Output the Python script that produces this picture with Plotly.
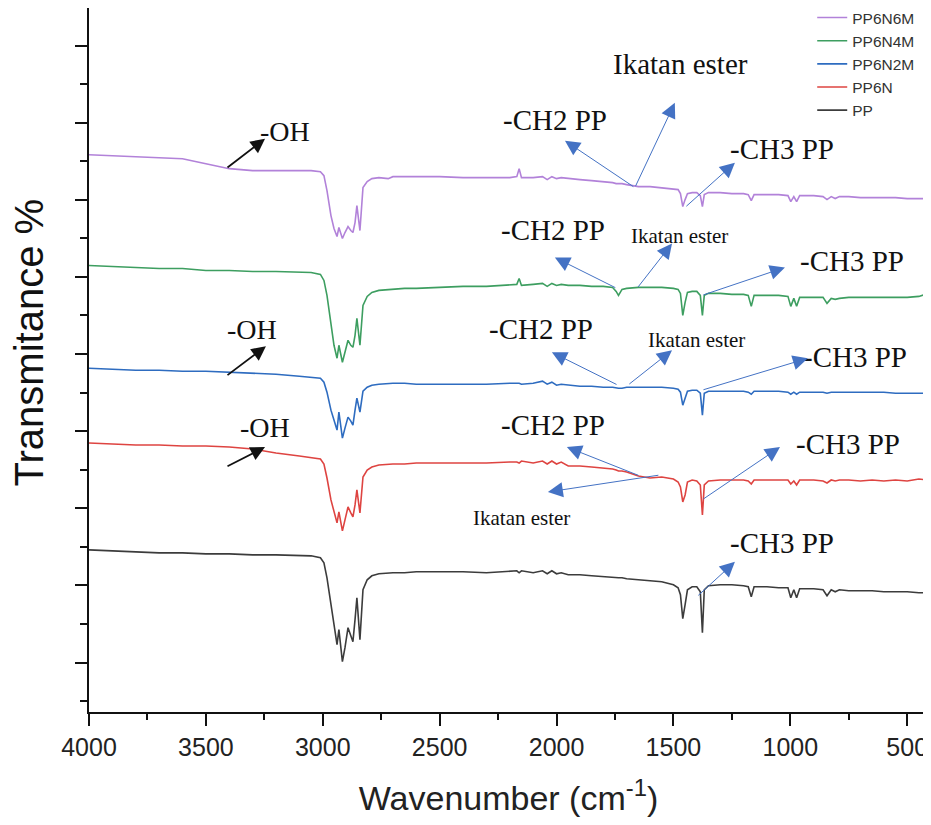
import plotly.graph_objects as go

# Wavenumber grid (cm-1)
wavenumber = [4000, 3900, 3800, 3700, 3600, 3500, 3400, 3300, 3200, 3100, 3050,
              3010, 2995, 2982, 2965, 2952, 2939, 2931, 2916, 2905, 2892, 2880, 2871, 2862, 2854, 2841, 2828, 2810, 2790, 2760, 2720,
              2700, 2650, 2600, 2500, 2400, 2300, 2200, 2170, 2160, 2150, 2100, 2060, 2040, 2020, 2000, 1980, 1950, 1900, 1850, 1800,
              1760, 1745, 1735, 1720, 1700, 1650, 1600, 1550, 1500,
              1480, 1470, 1460, 1450, 1440, 1420, 1400, 1385, 1376, 1368, 1350, 1300, 1250, 1200, 1180, 1167, 1155, 1100, 1050,
              1010, 998, 985, 973, 960, 900, 860, 843, 825, 808, 790, 750, 700, 650, 600, 550, 500, 450, 411]

# Offset transmittance (a.u.)
pp6n6m = [129.2, 129, 128.8, 128.6, 128.4, 127.4, 126.4, 126, 126, 126, 126,
          125.8, 125, 122, 117, 114.4, 112.8, 114.6, 112.4, 113.6, 114.8, 114, 113.6, 115.6, 119, 114, 122.6, 123.8, 124.4, 124.6, 124.4,
          124.8, 124.8, 124.8, 124.8, 124.6, 124.6, 124.6, 124.8, 126.4, 124.6, 124.6, 124.8, 124.2, 124.8, 124.4, 124.6, 124.4, 124.2, 124, 123.8,
          123.6, 123.4, 123.4, 123.4, 123.2, 122.8, 122.8, 122.6, 122.4,
          122.2, 121.4, 118.8, 120.2, 121.4, 121.6, 121.6, 121, 118.8, 121.2, 121.6, 121.6, 121.4, 121.4, 121.2, 120, 121.2, 121.2, 121.2,
          121, 119.8, 120.8, 119.8, 121, 121, 120.8, 120.2, 120.8, 120.4, 120.8, 120.8, 120.6, 120.6, 120.6, 120.6, 120.4, 120.4, 120.4]

pp6n4m = [107, 106.8, 106.6, 106.4, 106.4, 106, 106, 105.8, 105.8, 105.6, 105.6,
          105.2, 104, 101, 95, 91, 88.4, 91, 87.6, 89.6, 92, 91, 90.6, 93, 96.4, 91, 99, 100.8, 101.6, 102, 102.2,
          102.2, 102.4, 102.4, 102.6, 102.8, 102.8, 103, 103.2, 104.4, 103, 103.2, 103.4, 102.8, 103.4, 103, 103.2, 103, 103, 102.8, 102.8,
          102.6, 101.8, 101, 102.2, 102.4, 102.6, 102.6, 102.6, 102.4,
          102.2, 101.4, 97, 99.6, 101.6, 101.8, 101.8, 101, 97, 101, 101.4, 101.4, 101.2, 101.2, 101, 98.8, 101, 101, 101,
          100.8, 98.8, 100.4, 98.8, 100.6, 100.6, 100.6, 99.4, 100.4, 100.2, 100.4, 100.6, 100.6, 100.6, 100.6, 100.6, 100.6, 100.8, 101.4]

pp6n2m = [86.4, 86.2, 86, 86, 85.8, 85.8, 85.6, 85.4, 85.2, 84.8, 84.6,
          84.4, 83.6, 81.6, 78, 76, 74, 77.6, 72.4, 74.4, 76.6, 75.8, 75, 78, 80.4, 77.6, 81.8, 82.6, 83, 83.2, 83.4,
          83.4, 83.4, 83.2, 83.2, 83.2, 83.2, 83.4, 83.4, 83.4, 83.2, 83.4, 83.8, 83.2, 83.6, 83, 83.2, 83, 82.8, 82.8, 82.6,
          82.6, 82.4, 82.4, 82.4, 82.6, 82.6, 82.6, 82.6, 82.4,
          82.2, 81.6, 79, 80.4, 81.8, 82, 82, 81.4, 77, 81.4, 81.8, 81.8, 81.8, 81.8, 81.6, 81.2, 81.8, 81.8, 81.8,
          81.6, 81.2, 81.6, 81.2, 81.6, 81.6, 81.6, 81.4, 81.6, 81.6, 81.6, 81.6, 81.6, 81.6, 81.6, 81.4, 81.4, 81.4, 81.4]

pp6n = [71.4, 71.2, 71, 71, 70.8, 70.8, 70.6, 70.2, 69.4, 68.8, 68.4,
        68.2, 67.2, 64.4, 60, 57.6, 55.4, 57.6, 53.8, 56, 58.6, 57.4, 56.6, 59, 62, 57.4, 64.6, 66, 66.6, 67, 67.2,
        67.2, 67.2, 67.4, 67.4, 67.4, 67.4, 67.6, 67.6, 67.4, 67.8, 67.4, 67.8, 67.2, 67.8, 67.2, 67.6, 66.8, 66.8, 66.6, 66.4,
        66.2, 66, 65.8, 65.8, 65.6, 64.8, 64.4, 64.6, 64.2,
        63.6, 62.6, 59.6, 61, 63.6, 64, 63.8, 63, 57, 63, 63.8, 64, 64, 64, 63.8, 63.2, 64, 64, 64,
        64, 63.2, 63.8, 63, 64, 64, 63.8, 63.4, 64, 63.8, 64, 64, 63.8, 64, 63.8, 64, 63.8, 64.2, 64]

pp = [50, 49.8, 49.6, 49.4, 49.4, 49.2, 49.2, 49, 49, 48.8, 48.8,
      48.4, 47.4, 44.4, 39, 35, 31, 34, 27.6, 30.4, 34.4, 32.8, 31.6, 36, 40.4, 32, 42, 44, 44.8, 45.2, 45.4,
      45.4, 45.4, 45.6, 45.6, 45.6, 45.4, 45.6, 45.8, 45.4, 45.8, 45.4, 45.8, 45.2, 45.8, 45.2, 45.4, 45, 45, 44.8, 44.6,
      44.4, 44.4, 44.4, 44.4, 44.2, 44, 43.8, 43.6, 43,
      42.4, 41, 36.2, 39, 42, 42.6, 42.6, 41.6, 33.4, 42, 42.8, 43, 43, 42.8, 42.6, 40.6, 42.6, 42.6, 42.4,
      42.4, 40.4, 42, 40.4, 42.2, 42.2, 42, 40.8, 42, 41.6, 42, 41.8, 41.8, 41.8, 41.6, 41.6, 41.6, 41.4, 41.4]

series_names = ["PP6N6M", "PP6N4M", "PP6N2M", "PP6N", "PP"]
series_values = [pp6n6m, pp6n4m, pp6n2m, pp6n, pp]
series_colors = ["#b282d9", "#3d9e60", "#2e6cc0", "#de4441", "#3c3c3c"]

x_ticks = [4000, 3500, 3000, 2500, 2000, 1500, 1000, 500]

# Labels: (text, x, y, size)
labels = [
    ("-OH", 3162, 133.8, 28), ("Ikatan ester", 1468, 147.4, 29), ("-CH2 PP", 2007, 136.2, 29), ("-CH3 PP", 1036, 130.4, 29),
    ("-CH2 PP", 2015, 114.2, 29), ("Ikatan ester", 1472, 113, 21), ("-CH3 PP", 737, 107.8, 29),
    ("-OH", 3303, 94.2, 28), ("-CH2 PP", 2067, 94.2, 29), ("Ikatan ester", 1400, 92, 21), ("-CH3 PP", 724, 88.6, 29),
    ("-OH", 3247, 74.6, 28), ("-CH2 PP", 2015, 75, 29), ("Ikatan ester", 2148, 56.4, 21), ("-CH3 PP", 754, 71.2, 29),
    ("-CH3 PP", 1036, 51.4, 29),
]

# Arrows: (head x, head y, tail x, tail y, kind)
arrows = [
    (3247, 132.4, 3414, 126.4, "oh"), (1494, 139.6, 1665, 122.6, "b"), (1964, 132, 1665, 122.6, "b"), (1237, 127.6, 1451, 118.6, "b"),
    (2007, 108.6, 1742, 102.4, "b"), (1506, 111.4, 1656, 102.4, "b"), (1023, 106.6, 1378, 101, "b"),
    (3243, 90.8, 3414, 84.8, "oh"), (2020, 89.6, 1737, 83, "b"), (1506, 90, 1695, 83, "b"), (925, 88.4, 1378, 82, "b"),
    (3247, 70.6, 3414, 66.6, "oh"), (1956, 70.6, 1643, 64.8, "b"), (2037, 61.6, 1558, 65, "b"), (1044, 70.6, 1378, 60, "b"),
    (1237, 47.6, 1400, 40.6, "b"),
]

fig = go.Figure()
for name, vals, col in zip(series_names, series_values, series_colors):
    fig.add_trace(go.Scatter(x=wavenumber, y=vals, mode="lines", name=name,
                             line=dict(color=col, width=1.6)))

annotations = []
for text, x, y, size in labels:
    annotations.append(dict(x=x, y=y, xref="x", yref="y", text=text, showarrow=False,
                            font=dict(family="Liberation Serif, Times New Roman, serif", size=size, color="#111111")))
for hx, hy, tx, ty, kind in arrows:
    if kind == "oh":
        annotations.append(dict(x=hx, y=hy, ax=tx, ay=ty, xref="x", yref="y", axref="x", ayref="y", text="",
                                showarrow=True, arrowhead=2, arrowsize=1.6, arrowwidth=1.8, arrowcolor="#111111"))
    else:
        annotations.append(dict(x=hx, y=hy, ax=tx, ay=ty, xref="x", yref="y", axref="x", ayref="y", text="",
                                showarrow=True, arrowhead=2, arrowsize=3, arrowwidth=1, arrowcolor="#4472c4"))

annotations.append(dict(x=-0.0715, y=0.525, xref="paper", yref="paper", xanchor="center", yanchor="middle",
                        text="Transmitance %", textangle=-90, showarrow=False,
                        font=dict(family="Liberation Sans, Arial, sans-serif", size=40, color="#111111")))

fig.update_layout(
    width=923, height=817,
    margin=dict(l=81, r=3, t=0, b=112.5, autoexpand=False),
    paper_bgcolor="white", plot_bgcolor="white",
    font=dict(family="Liberation Sans, Arial, sans-serif", color="#111111"),
    showlegend=True,
    legend=dict(x=0.862, y=1.01, xanchor="left", yanchor="top", bgcolor="rgba(0,0,0,0)",
                font=dict(size=15.5, color="#333333"), tracegroupgap=0, itemwidth=30),
    annotations=annotations,
    xaxis=dict(range=[4000, 411], tickvals=x_ticks, ticks="outside", ticklen=12, tickwidth=2, tickcolor="#111111",
               showline=True, linewidth=2, linecolor="#111111", mirror=True, showgrid=False, zeroline=False,
               automargin=False, tickfont=dict(size=25, color="#222222"),
               minor=dict(dtick=250, tick0=0, ticks="outside", ticklen=6, tickwidth=2, tickcolor="#111111"),
               title=dict(text="Wavenumber (cm<sup>-1</sup>)", font=dict(size=34, color="#222222"), standoff=26)),
    yaxis=dict(range=[17.5, 158.6], tick0=27.4, dtick=15.46, ticks="outside", ticklen=12, tickwidth=2, tickcolor="#111111",
               showticklabels=False, showline=True, linewidth=2, linecolor="#111111", mirror=True, showgrid=False, zeroline=False,
               automargin=False,
               minor=dict(dtick=7.73, tick0=27.4, ticks="outside", ticklen=7, tickwidth=2, tickcolor="#111111")),
)

fig.write_html("out.html")
